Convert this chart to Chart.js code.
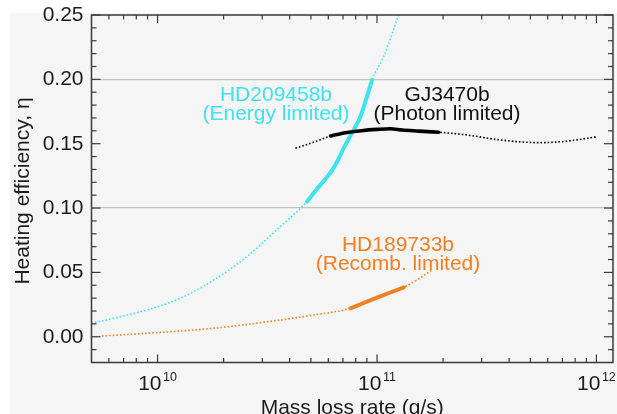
<!DOCTYPE html>
<html><head><meta charset="utf-8">
<script src="https://cdn.jsdelivr.net/npm/chart.js@4.4.0/dist/chart.umd.min.js"></script>
<style>html,body{margin:0;padding:0;background:#fff;overflow:hidden}#wrap{width:617px;height:414px}</style>
</head><body><div id="wrap"><canvas id="c" width="617" height="414"></canvas></div>
<script>
// ---------------- data ----------------
const yTickValues = [0, 0.05, 0.10, 0.15, 0.20, 0.25];
const yMinorTickValues = [-0.01, 0.01, 0.02, 0.03, 0.04, 0.06, 0.07, 0.08, 0.09, 0.11, 0.12, 0.13, 0.14,
  0.16, 0.17, 0.18, 0.19, 0.21, 0.22, 0.23, 0.24];
const yGridValues = [0.10, 0.20];
const xMajorTickValues = [1e10, 1e11, 1e12];
const xMajorTickExponents = ['10', '11', '12'];
const xMinorTickValues = [6e9, 7e9, 8e9, 9e9, 2e10, 3e10, 4e10, 5e10, 6e10, 7e10, 8e10, 9e10,
  2e11, 3e11, 4e11, 5e11, 6e11, 7e11, 8e11, 9e11];

// HD209458b (energy limited)
const hd209MassLoss = [5.0e9, 6.3e9, 8.95e9, 1.27e10, 1.80e10, 2.55e10, 3.62e10, 4.80e10, 5.25e10, 5.75e10,
  6.25e10, 6.65e10, 7.05e10, 7.5e10, 7.9e10, 8.4e10, 8.85e10, 9.49e10, 1.072e11, 1.256e11, 1.31e11];
const hd209Eta = [0.0104, 0.0143, 0.0208, 0.0299, 0.044, 0.0622, 0.0855, 0.105, 0.1135, 0.1215,
  0.1295, 0.1375, 0.1465, 0.1550, 0.162, 0.171, 0.1826, 0.1995, 0.2176, 0.25, 0.258];
const hd209Solid = [7, 17];

// GJ3470b (photon limited)
const gj3470MassLoss = [4.25e10, 5.14e10, 6.14e10, 7.2e10, 8.5e10, 1.0e11, 1.15e11, 1.3e11, 1.55e11, 1.909e11,
  2.57e11, 3.65e11, 5.56e11, 7.61e11, 1.0e12];
const gj3470Eta = [0.1464, 0.1511, 0.156, 0.1585, 0.1601, 0.1611, 0.1616, 0.1606, 0.1598, 0.1589,
  0.1568, 0.1529, 0.1508, 0.1523, 0.1554];
const gj3470Solid = [2, 9];

// HD189733b (recombination limited)
const hd189MassLoss = [5.58e9, 8.95e9, 1.80e10, 3.62e10, 5.14e10, 7.57e10, 1.0e11, 1.325e11, 1.52e11, 1.78e11];
const hd189Eta = [0.0006, 0.0027, 0.0066, 0.013, 0.0169, 0.0221, 0.0304, 0.0384, 0.0441, 0.0519];
const hd189Solid = [5, 7];

// ---------------- build ----------------
const FONT = '"Liberation Sans", Arial, Helvetica, sans-serif';
const CYAN = '#3fe3ee', ORANGE = '#f27f20', BLACK = '#000000';
const pts = (xs, ys) => xs.map((x, i) => ({x: x, y: ys[i]}));
const slice = (arr, r) => arr.slice(r[0], r[1] + 1);

function solidDs(xs, ys, r, color, w) {
  return {data: pts(slice(xs, r), slice(ys, r)), borderColor: color, borderWidth: w,
    pointRadius: 0, cubicInterpolationMode: 'monotone', borderCapStyle: 'round', borderJoinStyle: 'round', clip: 0};
}
function dotDs(xs, ys, color) {
  return {data: pts(xs, ys), borderColor: color, borderWidth: 1.6, borderDash: [1.6, 2.0],
    pointRadius: 0, cubicInterpolationMode: 'monotone', clip: 0};
}

const deco = {
  id: 'deco',
  beforeDraw(chart) {
    const c = chart.ctx;
    c.save();
    c.fillStyle = '#ffffff'; c.fillRect(0, 0, chart.width, chart.height);
    c.fillStyle = '#f4f5f4'; c.fillRect(10, 13, chart.width - 10, chart.height - 13);
    c.restore();
  },
  afterDraw(chart) {
    const c = chart.ctx, a = chart.chartArea, xs = chart.scales.x, ys = chart.scales.y;
    c.save();
    c.strokeStyle = '#3a3a3a'; c.lineWidth = 1.5;
    c.strokeRect(a.left, a.top, a.right - a.left, a.bottom - a.top);
    c.lineWidth = 1.2;
    const seg = (x1, y1, x2, y2) => { c.beginPath(); c.moveTo(x1, y1); c.lineTo(x2, y2); c.stroke(); };
    xMajorTickValues.forEach(v => { const p = xs.getPixelForValue(v); seg(p, a.bottom, p, a.bottom - 8); seg(p, a.top, p, a.top + 8); });
    xMinorTickValues.forEach(v => { const p = xs.getPixelForValue(v); seg(p, a.bottom, p, a.bottom - 4.5); seg(p, a.top, p, a.top + 4.5); });
    yTickValues.forEach(v => { const p = ys.getPixelForValue(v); seg(a.left, p, a.left + 9, p); seg(a.right, p, a.right - 9, p); });
    yMinorTickValues.forEach(v => { const p = ys.getPixelForValue(v); seg(a.left, p, a.left + 5, p); seg(a.right, p, a.right - 5, p); });

    // x tick labels 10^n
    c.fillStyle = '#1c1c1c'; c.textBaseline = 'alphabetic'; c.textAlign = 'left';
    xMajorTickValues.forEach((v, i) => {
      const p = xs.getPixelForValue(v);
      c.font = '21px ' + FONT; const bw = c.measureText('10').width;
      c.font = '12.5px ' + FONT; const ew = c.measureText(xMajorTickExponents[i]).width;
      const start = p - (bw + 1.5 + ew) / 2;
      c.font = '21px ' + FONT; c.fillText('10', start, 390);
      c.font = '12.5px ' + FONT; c.fillText(xMajorTickExponents[i], start + bw + 1.5, 380.5);
    });

    // axis titles
    c.font = '21px ' + FONT; c.textAlign = 'center';
    c.fillText('Mass loss rate (g/s)', (a.left + a.right) / 2, 414);
    c.save(); c.translate(28.5, 191); c.rotate(-Math.PI / 2); c.fillText('Heating efficiency, η', 0, 0); c.restore();

    // annotations
    c.fillStyle = CYAN;
    c.fillText('HD209458b', 276, 100.5); c.fillText('(Energy limited)', 276, 120);
    c.fillStyle = '#111';
    c.fillText('GJ3470b', 447, 100.5); c.fillText('(Photon limited)', 447, 120);
    c.fillStyle = ORANGE;
    c.fillText('HD189733b', 398, 251); c.fillText('(Recomb. limited)', 398, 269.5);
    c.restore();
  }
};

new Chart(document.getElementById('c'), {
  type: 'line',
  data: {datasets: [
    solidDs(gj3470MassLoss, gj3470Eta, gj3470Solid, BLACK, 3.6),
    solidDs(hd209MassLoss, hd209Eta, hd209Solid, CYAN, 4),
    solidDs(hd189MassLoss, hd189Eta, hd189Solid, ORANGE, 4),
    dotDs(gj3470MassLoss, gj3470Eta, BLACK),
    dotDs(hd209MassLoss, hd209Eta, CYAN),
    dotDs(hd189MassLoss, hd189Eta, ORANGE)
  ]},
  options: {
    responsive: false, animation: false, devicePixelRatio: 1,
    layout: {padding: {left: 0, top: 15, right: 4, bottom: 0}},
    plugins: {legend: {display: false}, tooltip: {enabled: false}},
    scales: {
      x: {type: 'logarithmic', min: 5e9, max: 1.19e12, position: 'bottom',
        ticks: {display: false}, grid: {display: false, drawTicks: false}, border: {display: false},
        afterFit(s) { s.height = 51.5; s.paddingLeft = 0; s.paddingRight = 0; }},
      y: {type: 'linear', min: -0.02, max: 0.25, position: 'left',
        afterBuildTicks(s) { s.ticks = yTickValues.map(v => ({value: v})); },
        ticks: {padding: 8, color: '#1c1c1c', font: {family: FONT, size: 21}, callback: v => Number(v).toFixed(2)},
        grid: {drawTicks: false, lineWidth: 1.2,
          color: ctx => (ctx.tick && yGridValues.some(g => Math.abs(g - ctx.tick.value) < 1e-9)) ? '#c4c4c4' : 'rgba(0,0,0,0)'},
        border: {display: false},
        afterFit(s) { s.width = 91.5; s.paddingTop = 0; s.paddingBottom = 0; }}
    }
  },
  plugins: [deco]
});
</script></body></html>
